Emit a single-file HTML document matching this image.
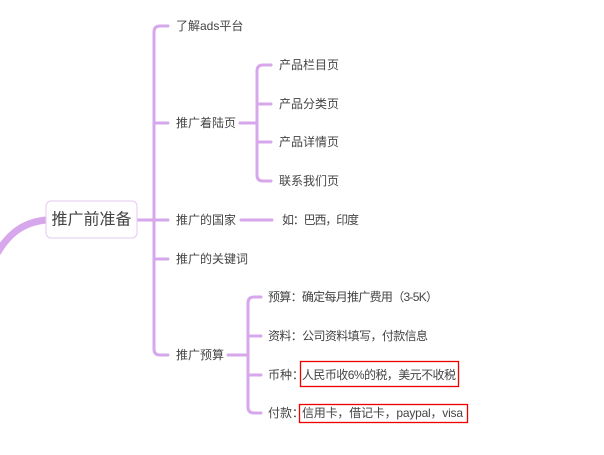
<!DOCTYPE html>
<html><head><meta charset="utf-8"><style>
body{margin:0;background:#fff;width:604px;height:450px;overflow:hidden}
text{font-family:"Liberation Sans","Noto Sans CJK SC",sans-serif;fill:#444;font-size:12px;dominant-baseline:central}
</style></head><body>
<svg width="604" height="450" viewBox="0 0 604 450">
<g fill="none" stroke="#d7a7ec" stroke-width="3" stroke-linecap="round">
<path d="M-2,252 C10,232 25,222 46,220" stroke-width="7"/>
<path d="M137,220 H154"/>
<path d="M168,26 H160 Q154,26 154,32 V349 Q154,355 160,355 H168"/>
<path d="M154,123 H168 M154,220 H168 M154,259 H168"/>
<path d="M240,123 H257"/>
<path d="M271,65 H263 Q257,65 257,71 V175 Q257,181 263,181 H271"/>
<path d="M257,104 H271 M257,142 H271"/>
<path d="M241,220 H272"/>
<path d="M228,355 H248"/>
<path d="M261,297 H254 Q248,297 248,303 V407 Q248,413 254,413 H261"/>
<path d="M248,336 H261 M248,375 H261"/>
</g>
<rect x="46" y="201" width="91" height="37" rx="5" fill="#fff" stroke="#e6c9f2" stroke-width="1"/>
<text x="91.5" y="220" text-anchor="middle" style="font-size:16px">推广前准备</text>
<text x="176" y="26">了解ads平台</text>
<text x="176" y="123">推广着陆页</text>
<text x="176" y="220">推广的国家</text>
<text x="176" y="259">推广的关键词</text>
<text x="176" y="355">推广预算</text>
<text x="279" y="65">产品栏目页</text>
<text x="279" y="104">产品分类页</text>
<text x="279" y="142">产品详情页</text>
<text x="279" y="181">联系我们页</text>
<text x="282" y="220" textLength="77" lengthAdjust="spacing">如：巴西，印度</text>
<text x="268" y="297" textLength="170" lengthAdjust="spacing">预算：确定每月推广费用（3-5K）</text>
<text x="268" y="336" textLength="160" lengthAdjust="spacing">资料：公司资料填写，付款信息</text>
<text x="268" y="375">币种：</text>
<text x="302" y="375" textLength="154" lengthAdjust="spacing">人民币收6%的税，美元不收税</text>
<text x="268" y="413">付款：</text>
<text x="302" y="413" textLength="161" lengthAdjust="spacing">信用卡，借记卡，paypal，visa</text>
<rect x="300.5" y="361.5" width="158" height="25" fill="none" stroke="#e00" stroke-width="1.3"/>
<rect x="299.5" y="404.5" width="168" height="18" fill="none" stroke="#e00" stroke-width="1.3"/>
</svg>
</body></html>
